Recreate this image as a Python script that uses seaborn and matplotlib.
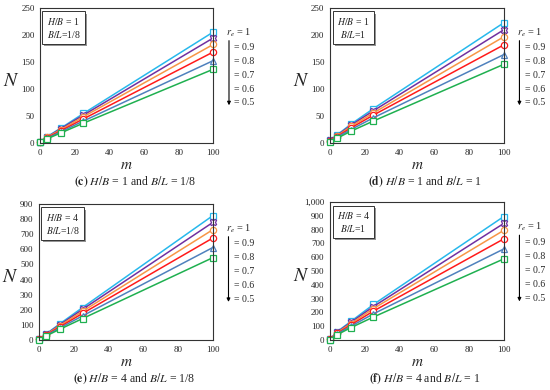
import numpy as np
import pandas as pd
import matplotlib
matplotlib.use('Agg')
from matplotlib import pyplot as plt
from matplotlib import patheffects as pe
from matplotlib.ticker import FuncFormatter, MultipleLocator
import seaborn as sns

# m 取值与 r_e 取值
m_vals = [0, 4, 12, 25, 100]
re_vals = ['1', '0.9', '0.8', '0.7', '0.6', '0.5']

# 四种工况下的 N 值（每行对应一个 r_e）
N_c = [[3, 12, 28, 55, 206],
       [3, 11, 27, 52, 195],
       [3, 11, 25, 49, 183],
       [3, 10, 23, 45, 169],
       [3, 9, 21, 41, 153],
       [3, 8, 19, 37, 137]]
N_d = [[5, 15, 35, 64, 223],
       [5, 14, 33, 60, 210],
       [4, 13, 31, 56, 197],
       [4, 12, 28, 52, 182],
       [4, 11, 25, 47, 164],
       [3, 9, 22, 41, 146]]
N_e = [[4, 40, 108, 215, 823],
       [4, 38, 102, 203, 778],
       [4, 36, 96, 190, 730],
       [4, 33, 88, 176, 675],
       [4, 30, 80, 160, 612],
       [3, 27, 72, 142, 545]]
N_f = [[5, 60, 135, 258, 895],
       [5, 56, 128, 243, 845],
       [5, 53, 120, 228, 795],
       [5, 48, 110, 210, 733],
       [4, 44, 100, 190, 660],
       [4, 38, 90, 167, 588]]

colors = ['#27b8ec', '#7030a0', '#f79646', '#ff1a1a', '#4f81bd', '#1fb050']
markers = ['s', 'X', 'o', 'o', '^', 's']

panels = [
    (N_c, '1', '1/8', '(c)', 250, 50, [0.073, 0.633, 0.315, 0.346]),
    (N_d, '1', '1', '(d)', 250, 50, [0.600, 0.633, 0.316, 0.346]),
    (N_e, '4', '1/8', '(e)', 900, 100, [0.071, 0.128, 0.316, 0.349]),
    (N_f, '4', '1', '(f)', 1000, 100, [0.600, 0.128, 0.316, 0.354]),
]

sns.set_style('white')
plt.rcParams['font.family'] = ['Liberation Serif', 'DejaVu Serif']
plt.rcParams['mathtext.fontset'] = 'stix'

fig = plt.figure(figsize=(5.5, 3.9), dpi=100)

for N, hb, bl, tag, ymax, ystep, pos in panels:
    ax = fig.add_axes(pos)
    rows = []
    for re_, ys in zip(re_vals, N):
        for m, n in zip(m_vals, ys):
            rows.append({'m': m, 'N': n, 're': re_})
    df = pd.DataFrame(rows)
    sns.lineplot(data=df, x='m', y='N', hue='re', style='re',
                 palette=dict(zip(re_vals, colors)),
                 markers=dict(zip(re_vals, markers)), dashes=False,
                 markersize=4.5, markerfacecolor='white', markeredgewidth=0.9,
                 linewidth=1.1, legend=False, ax=ax)
    for ln, c in zip(ax.lines, colors):
        ln.set_markeredgecolor(c)
        ln.set_clip_on(False)
    ax.set_xlim(0, 100)
    ax.set_ylim(0, ymax)
    ax.xaxis.set_major_locator(MultipleLocator(20))
    ax.xaxis.set_minor_locator(MultipleLocator(4))
    ax.yaxis.set_major_locator(MultipleLocator(ystep))
    ax.yaxis.set_minor_locator(MultipleLocator(ystep / 5))
    ax.yaxis.set_major_formatter(FuncFormatter(lambda v, p: f'{int(v):,}'))
    ax.tick_params(which='major', direction='out', length=2.5, width=0.6,
                   labelsize=6.5, pad=1.5)
    ax.tick_params(which='minor', direction='in', length=1.5, width=0.5)
    for s in ax.spines.values():
        s.set_linewidth(0.8)
        s.set_color('#333333')
    ax.set_xlabel('$m$', fontsize=11, labelpad=2)
    ax.set_ylabel('$N$', fontsize=14, rotation=0, va='center', ha='center')
    ax.yaxis.set_label_coords(-0.165, 0.46)

    # 参数说明框
    t = ax.text(0.135, 0.855, f'$H/B$ = {hb}\n$B/L$={bl}', transform=ax.transAxes,
                ha='center', va='center', fontsize=7, linespacing=1.2,
                multialignment='center',
                bbox=dict(boxstyle='square,pad=0.45', fc='white', ec='#333333', lw=0.7))
    t.get_bbox_patch().set_path_effects(
        [pe.SimplePatchShadow(offset=(1.5, -1.5), shadow_rgbFace='#888888', alpha=0.9),
         pe.Normal()])

    # 右侧 r_e 标注与箭头
    ax.text(1.075, 0.82, '$r_e$ = 1', transform=ax.transAxes, fontsize=7.5,
            ha='left', va='center', clip_on=False)
    for i, lab in enumerate(re_vals[1:]):
        ax.text(1.12, 0.71 - i * 0.103, f'= {lab}', transform=ax.transAxes,
                fontsize=7, ha='left', va='center', clip_on=False)
    ax.annotate('', xy=(1.09, 0.26), xytext=(1.09, 0.78), xycoords='axes fraction',
                arrowprops=dict(arrowstyle='-|>', lw=0.8, color='black',
                                mutation_scale=5), annotation_clip=False)

    # 子图标题
    cx = pos[0] + pos[2] / 2 + 0.015
    cy = pos[1] - 0.1
    fig.text(cx, cy, r'$\mathbf{' + tag + '}$' + f' $H/B$ = {hb} and $B/L$ = {bl}',
             ha='center', va='center', fontsize=8.5)

fig.savefig('out.png', dpi=100, facecolor='white')
